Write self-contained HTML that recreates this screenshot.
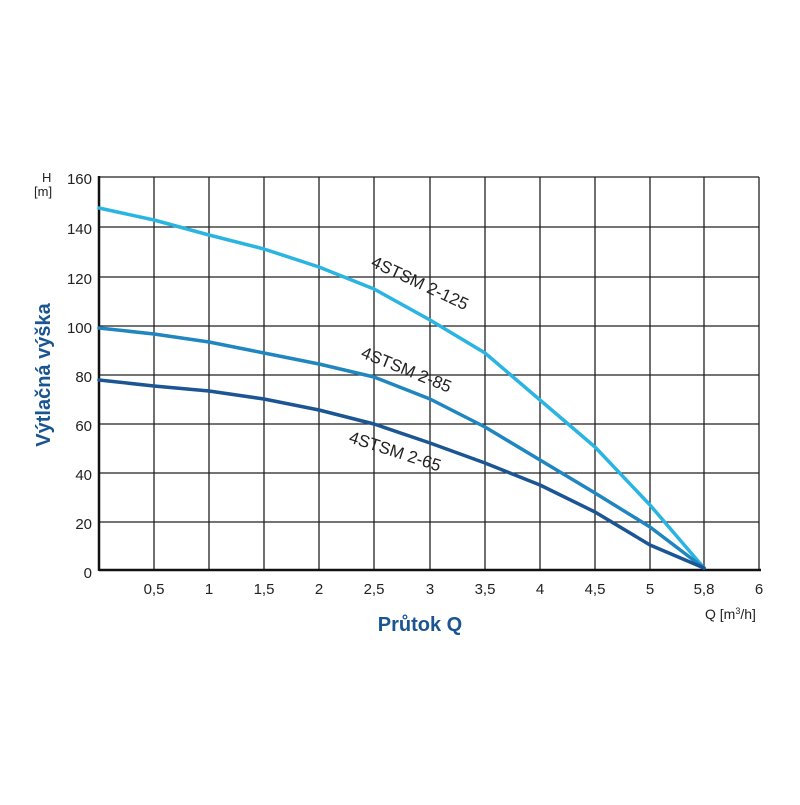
<!DOCTYPE html><html><head><style>body{margin:0;background:#fff}</style></head><body>
<svg width="800" height="800" xmlns="http://www.w3.org/2000/svg" font-family="Liberation Sans, sans-serif">
<g stroke="#222" stroke-width="1.3">
<line x1="154" y1="177" x2="154" y2="570"/><line x1="209" y1="177" x2="209" y2="570"/><line x1="264" y1="177" x2="264" y2="570"/><line x1="319" y1="177" x2="319" y2="570"/><line x1="374" y1="177" x2="374" y2="570"/><line x1="430" y1="177" x2="430" y2="570"/><line x1="485" y1="177" x2="485" y2="570"/><line x1="540" y1="177" x2="540" y2="570"/><line x1="595" y1="177" x2="595" y2="570"/><line x1="650" y1="177" x2="650" y2="570"/><line x1="704" y1="177" x2="704" y2="570"/><line x1="759" y1="177" x2="759" y2="570"/>
<line x1="99" y1="177" x2="759" y2="177"/><line x1="99" y1="227" x2="759" y2="227"/><line x1="99" y1="277" x2="759" y2="277"/><line x1="99" y1="326" x2="759" y2="326"/><line x1="99" y1="375" x2="759" y2="375"/><line x1="99" y1="424" x2="759" y2="424"/><line x1="99" y1="473" x2="759" y2="473"/><line x1="99" y1="522" x2="759" y2="522"/>
</g>
<line x1="99" y1="570" x2="761" y2="570" stroke="#111" stroke-width="2.5"/>
<line x1="99" y1="176" x2="99" y2="571" stroke="#111" stroke-width="2.5"/>
<g fill="none" stroke-width="3.5" stroke-linejoin="round" stroke-linecap="round">
<polyline stroke="#2ab4e2" points="99,208 154,220 209,235 264,249 319,267 374,289 430,320 485,353 540,400 595,447 650,505 704,568"/>
<polyline stroke="#1f86bf" points="99,328 154,334 209,342 264,353 319,364 374,377 430,399 485,427 540,460 595,493 650,527 704,568"/>
<polyline stroke="#1b5594" points="99,380 154,386 209,391 264,399 319,410 374,424 430,443 485,463 540,485 595,512 650,545 704,568"/>
</g>
<g font-size="15" fill="#222" text-anchor="end">
<text x="92" y="184">160</text><text x="92" y="234">140</text><text x="92" y="284">120</text><text x="92" y="333">100</text><text x="92" y="382">80</text><text x="92" y="431">60</text><text x="92" y="480">40</text><text x="92" y="529">20</text><text x="92" y="578">0</text>
</g>
<text x="42" y="182" font-size="13" fill="#222">H</text><text x="34" y="196" font-size="13" fill="#222">[m]</text>
<g font-size="15" fill="#222" text-anchor="middle">
<text x="154" y="594">0,5</text><text x="209" y="594">1</text><text x="264" y="594">1,5</text><text x="319" y="594">2</text><text x="374" y="594">2,5</text><text x="430" y="594">3</text><text x="485" y="594">3,5</text><text x="540" y="594">4</text><text x="595" y="594">4,5</text><text x="650" y="594">5</text><text x="704" y="594">5,8</text><text x="759" y="594">6</text>
</g>
<text x="705" y="619" font-size="14" fill="#222">Q [m<tspan font-size="9" dy="-5">3</tspan><tspan dy="5">/h]</tspan></text>
<text x="420" y="631" font-size="20" font-weight="bold" fill="#1a5592" text-anchor="middle">Průtok Q</text>
<text transform="translate(50,375) rotate(-90)" font-size="20" font-weight="bold" fill="#1a5592" text-anchor="middle">Výtlačná výška</text>
<g font-size="17" fill="#222">
<text transform="translate(370,266) rotate(25)">4STSM 2-125</text>
<text transform="translate(360,357) rotate(22)">4STSM 2-85</text>
<text transform="translate(348,442) rotate(18)">4STSM 2-65</text>
</g>
</svg></body></html>
